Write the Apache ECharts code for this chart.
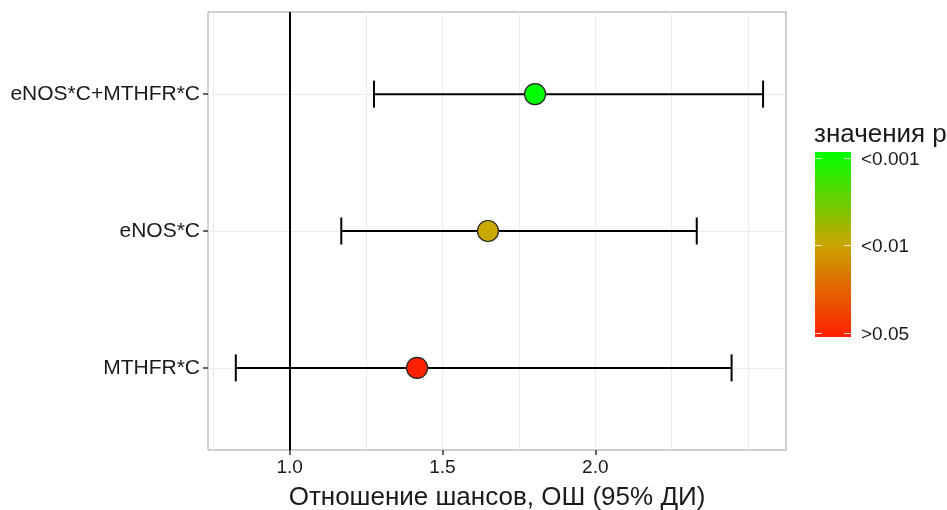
<!DOCTYPE html>
<html>
<head>
<meta charset="utf-8">
<script src="https://cdn.jsdelivr.net/npm/echarts@6/dist/echarts.min.js"></script>
<style>html,body{margin:0;padding:0;background:#fff}#c{width:947px;height:510px}</style>
</head>
<body>
<div id="c"></div>
<script>
// ---- data ----
const categories = ['MTHFR*C', 'eNOS*C', 'eNOS*C+MTHFR*C'];   // bottom to top
const oddsRatio  = [1.417, 1.649, 1.803];
const ciLow      = [0.824, 1.169, 1.276];
const ciHigh     = [2.446, 2.332, 2.549];
const pGroup     = ['>0.05', '<0.01', '<0.001'];
const pLegendLabels = ['<0.001', '<0.01', '>0.05'];               // top to bottom
const xTickLabels = [1.0, 1.5, 2.0];
const xGridBreaks = [0.75, 1.0, 1.25, 1.5, 1.75, 2.0, 2.25, 2.5];
const refLine = 1.0;

const pColors = {'<0.001': '#00ff00', '<0.01': '#c9a800', '>0.05': '#ff2200'};
const catPos = categories.map((c, i) => i + 1);

const chart = echarts.init(document.getElementById('c'), null, {renderer: 'canvas'});
const txt = '#1a1a1a';
const font = 'Liberation Sans, Arial, sans-serif';

const barTop = 152, barH = 185, barX = 815, barW = 36;
const legendPos = [6 / 185, 0.5, 181 / 185];
const graphics = [
  {type: 'text', left: 814, top: 122, style: {text: 'значения p', fontSize: 26, fontFamily: font, fill: txt}},
  {type: 'rect', shape: {x: barX, y: barTop, width: barW, height: barH},
   style: {fill: new echarts.graphic.LinearGradient(0, 0, 0, 1, [
     {offset: 0, color: '#00ff00'}, {offset: 0.5, color: '#c9a400'}, {offset: 1, color: '#ff2000'}])}}
];
pLegendLabels.forEach((l, i) => {
  const y = Math.round(barTop + barH * legendPos[i]) + 0.5;
  graphics.push({type: 'line', shape: {x1: barX, y1: y, x2: barX + 7, y2: y}, style: {stroke: '#fff', lineWidth: 1, opacity: 0.8}});
  graphics.push({type: 'line', shape: {x1: barX + barW - 7, y1: y, x2: barX + barW, y2: y}, style: {stroke: '#fff', lineWidth: 1, opacity: 0.8}});
  graphics.push({type: 'text', x: 861, y: y + 1, style: {text: l, fontSize: 19, fontFamily: font, fill: txt, verticalAlign: 'middle', align: 'left'}});
});

chart.setOption({
  animation: false,
  backgroundColor: '#fff',
  grid: {left: 208, right: 161, top: 12, bottom: 60, containLabel: false, outerBoundsMode: 'none',
         show: true, borderColor: '#a0a0a0', borderWidth: 1, backgroundColor: '#fff'},
  xAxis: {
    type: 'value', min: 0.733, max: 2.624,
    name: 'Отношение шансов, ОШ (95% ДИ)', nameLocation: 'middle', nameGap: 35,
    nameTextStyle: {fontSize: 26, fontFamily: font, color: txt},
    axisLine: {show: false},
    splitLine: {show: false},
    axisTick: {show: true, customValues: xTickLabels, length: 5, lineStyle: {color: '#333', width: 1.5}},
    axisLabel: {customValues: xTickLabels, formatter: v => v.toFixed(1), fontSize: 19, fontFamily: font, color: txt, margin: 8}
  },
  yAxis: {
    type: 'value', min: 0.4, max: 3.6,
    axisLine: {show: false},
    splitLine: {show: false},
    axisTick: {show: true, customValues: catPos, length: 5, lineStyle: {color: '#333', width: 1.5}},
    axisLabel: {customValues: catPos, formatter: v => categories[Math.round(v) - 1] || '', fontSize: 21, fontFamily: font, color: txt, margin: 8}
  },
  graphic: graphics,
  series: [
    {
      type: 'line', data: [], silent: true, z: 0,
      markLine: {
        silent: true, symbol: 'none', label: {show: false}, animation: false, z: 0,
        lineStyle: {color: '#ebebeb', width: 1, type: 'solid'},
        data: xGridBreaks.map(v => ({xAxis: v})).concat(catPos.map(v => ({yAxis: v})))
      }
    },
    {
      type: 'line', data: [], silent: true, z: 1,
      markLine: {
        silent: true, symbol: 'none', label: {show: false}, animation: false, z: 1,
        lineStyle: {color: '#000', width: 2, type: 'solid'},
        data: [{xAxis: refLine}]
      }
    },
    {
      type: 'custom', silent: true, z: 5,
      data: categories.map((c, i) => [catPos[i], ciLow[i], ciHigh[i]]),
      renderItem: (params, api) => {
        const y = api.value(0);
        const a = api.coord([api.value(1), y]);
        const b = api.coord([api.value(2), y]);
        const h = 13.5;
        const st = {stroke: '#000', lineWidth: 2, fill: null};
        return {type: 'group', children: [
          {type: 'line', shape: {x1: a[0], y1: a[1], x2: b[0], y2: b[1]}, style: st},
          {type: 'line', shape: {x1: a[0], y1: a[1] - h, x2: a[0], y2: a[1] + h}, style: st},
          {type: 'line', shape: {x1: b[0], y1: b[1] - h, x2: b[0], y2: b[1] + h}, style: st}
        ]};
      }
    },
    {
      type: 'scatter', symbol: 'circle', symbolSize: 21, z: 6,
      data: categories.map((c, i) => ({value: [oddsRatio[i], catPos[i]], itemStyle: {color: pColors[pGroup[i]]}})),
      itemStyle: {borderColor: '#222', borderWidth: 1.2, opacity: 1}
    }
  ]
});
</script>
</body>
</html>
